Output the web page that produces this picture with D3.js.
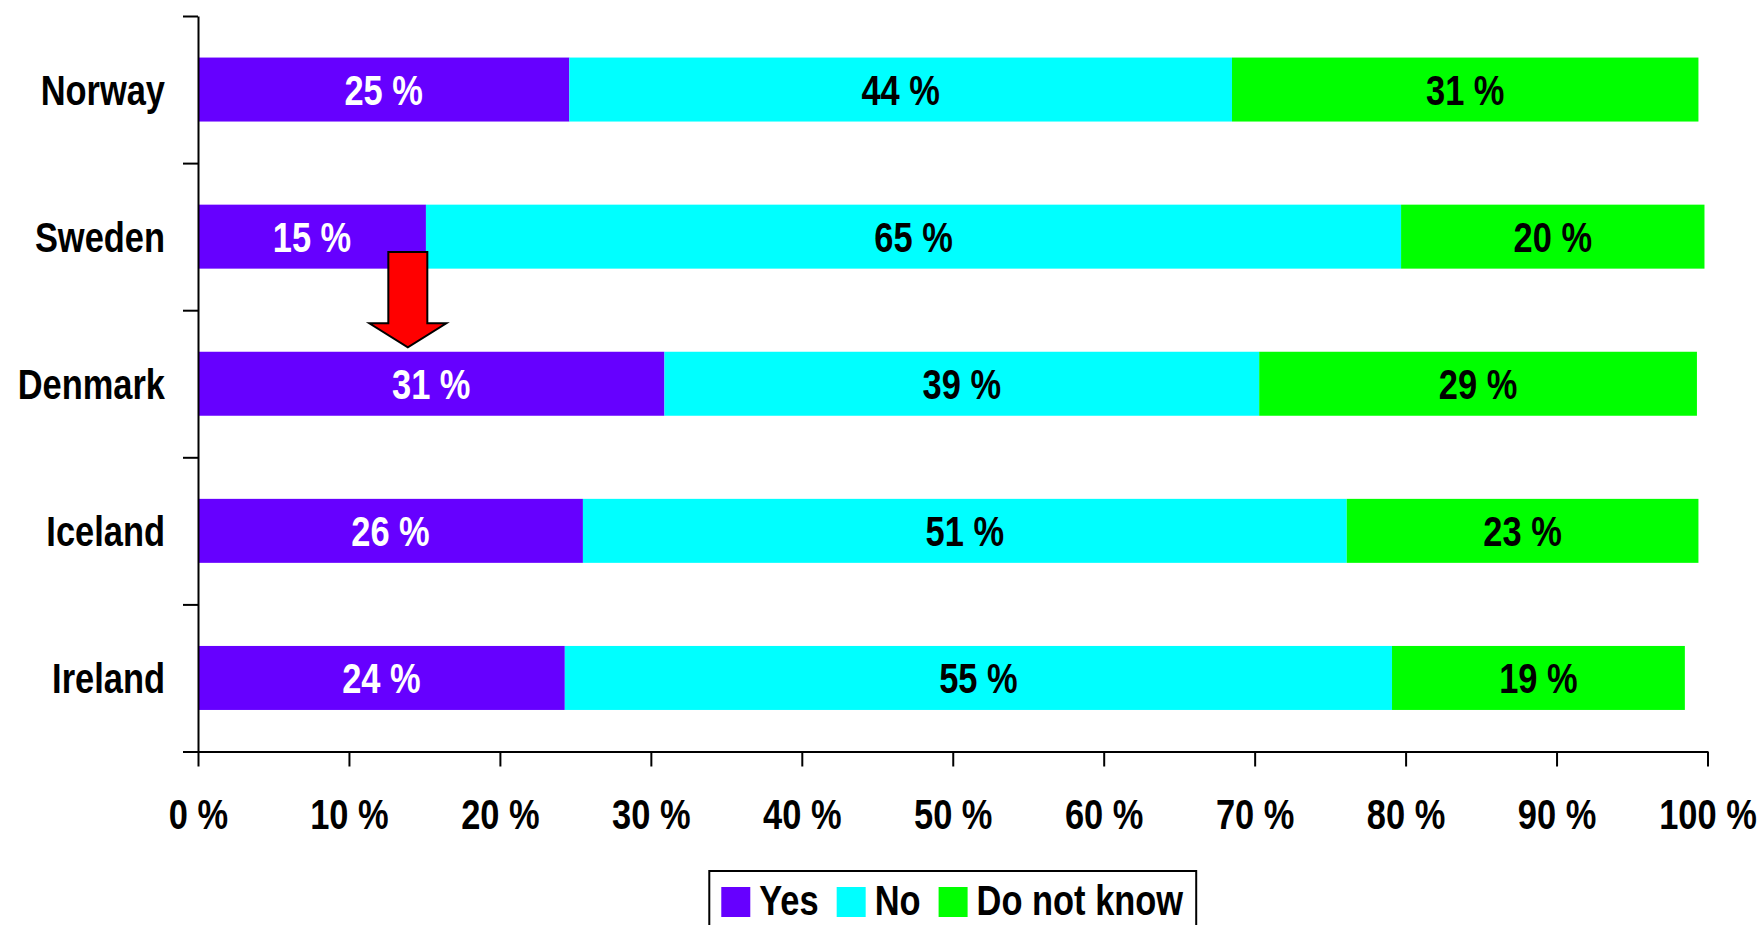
<!DOCTYPE html>
<html>
<head>
<meta charset="utf-8">
<script src="https://cdn.jsdelivr.net/npm/d3@7"></script>
<style>
  html, body { margin: 0; padding: 0; background: #ffffff; overflow: hidden; }
  svg text {
    font-family: "Liberation Sans", Arial, sans-serif;
    font-weight: bold;
  }
</style>
</head>
<body>
<svg id="chart" width="1762" height="925"></svg>
<script>
// Survey answers per country, shares in percent
const categories = ["Norway", "Sweden", "Denmark", "Iceland", "Ireland"];
const yesValues = [24.6, 15.1, 30.9, 25.5, 24.3];
const noValues = [43.9, 64.6, 39.4, 50.6, 54.8];
const dontKnowValues = [30.9, 20.1, 29.0, 23.3, 19.4];

const seriesNames = ["Yes", "No", "Do not know"];
const seriesColors = ["#6600ff", "#00ffff", "#00ff00"];
const valueLabelColors = ["#ffffff", "#000000", "#000000"];

const xTickValues = [0, 10, 20, 30, 40, 50, 60, 70, 80, 90, 100];
const xTickLabels = ["0 %", "10 %", "20 %", "30 %", "40 %", "50 %", "60 %", "70 %", "80 %", "90 %", "100 %"];

// Callout arrow pointing at Denmark's "Yes" share
const arrowAt = 13.9;
const arrowFrom = "Sweden";
const arrowTo = "Denmark";

// Rows for the stack layout
const rows = categories.map((c, i) => ({
  country: c,
  "Yes": yesValues[i],
  "No": noValues[i],
  "Do not know": dontKnowValues[i]
}));

// Narrow (condensed) lettering: squeeze glyphs horizontally around their anchor
const NARROW = 0.82;
function condense(sel) {
  sel.each(function () {
    const t = d3.select(this);
    const tx = +t.attr("x") || 0;
    const ty = +t.attr("y") || 0;
    t.attr("x", 0).attr("y", 0)
      .attr("transform", `translate(${tx},${ty}) scale(${NARROW},1)`);
  });
}

const svg = d3.select("#chart");

const plotLeft = 198, plotRight = 1707.5, plotTop = 16, plotBottom = 751.5;

const x = d3.scaleLinear().domain([0, 100]).range([plotLeft, plotRight]);
const y = d3.scaleBand().domain(categories).range([plotTop, plotBottom])
  .paddingInner(0.565).paddingOuter(0.2825);
const rowEdges = d3.scaleLinear().domain([0, categories.length]).range([plotTop, plotBottom]);

const stacked = d3.stack().keys(seriesNames)(rows);

// Bars
const layers = svg.append("g").attr("class", "bars")
  .selectAll("g").data(stacked).join("g")
  .attr("fill", (d, i) => seriesColors[i]);

layers.selectAll("rect").data(d => d).join("rect")
  .attr("x", d => x(d[0]))
  .attr("y", d => y(d.data.country))
  .attr("width", d => x(d[1]) - x(d[0]))
  .attr("height", y.bandwidth());

// Value labels inside segments
svg.append("g").attr("class", "value-labels")
  .selectAll("g").data(stacked).join("g")
  .attr("fill", (d, i) => valueLabelColors[i])
  .selectAll("text").data(d => d).join("text")
  .attr("x", d => (x(d[0]) + x(d[1])) / 2)
  .attr("y", d => y(d.data.country) + y.bandwidth() / 2)
  .attr("dy", "0.36em")
  .attr("text-anchor", "middle")
  .attr("font-size", 42)
  .text(d => Math.round(d[1] - d[0]) + " %")
  .call(condense);

// Y axis: line with ticks between rows
const yAxisG = svg.append("g")
  .attr("transform", `translate(${plotLeft},0)`)
  .call(d3.axisLeft(rowEdges).tickValues(d3.range(categories.length + 1))
    .tickSize(15).tickSizeOuter(0).tickFormat(""));
yAxisG.selectAll("path, line").attr("stroke", "#000").attr("stroke-width", 2);

// Category labels
const catG = svg.append("g")
  .attr("transform", `translate(${plotLeft},0)`)
  .call(d3.axisLeft(y).tickSize(0).tickPadding(33));
catG.select(".domain").remove();
catG.selectAll("text")
  .attr("font-size", 42)
  .attr("fill", "#000")
  .attr("dy", "0.36em")
  .call(condense);

// X axis
const xAxisG = svg.append("g")
  .attr("transform", `translate(0,${plotBottom})`)
  .call(d3.axisBottom(x).tickValues(xTickValues).tickSize(15).tickSizeOuter(0)
    .tickFormat((d, i) => xTickLabels[i]));
xAxisG.selectAll("path, line").attr("stroke", "#000").attr("stroke-width", 2);
xAxisG.selectAll("text")
  .attr("font-size", 42)
  .attr("fill", "#000")
  .attr("y", 77)
  .attr("dy", 0)
  .call(condense);

// Red arrow annotation
const ax = x(arrowAt);
const shaftHalf = 19.5, headHalf = 38.5;
const shaftTop = y(arrowFrom) + y.bandwidth() * 0.74;
const tipY = y(arrowTo) - 4.5;
const headTop = tipY - 24;
const arrowPts = [
  [ax - shaftHalf, shaftTop], [ax + shaftHalf, shaftTop], [ax + shaftHalf, headTop],
  [ax + headHalf, headTop], [ax, tipY], [ax - headHalf, headTop], [ax - shaftHalf, headTop]
];
svg.append("path")
  .attr("d", d3.line()(arrowPts) + "Z")
  .attr("fill", "#ff0000")
  .attr("stroke", "#000")
  .attr("stroke-width", 2)
  .attr("stroke-linejoin", "miter");

// Legend
const legend = svg.append("g").attr("class", "legend");
const swatchW = 29, swatchH = 30, textGap = 9, itemGap = 18, padL = 12, padR = 13;
const legendTop = 871, legendTextBase = 915;
const items = legend.selectAll("g.item").data(seriesNames).join("g").attr("class", "item");
items.append("rect")
  .attr("width", swatchW).attr("height", swatchH)
  .attr("y", legendTop + 16)
  .attr("fill", (d, i) => seriesColors[i]);
items.append("text")
  .attr("font-size", 42)
  .attr("fill", "#000")
  .text(d => d);

let cursor = 0;
const offsets = [];
items.each(function () {
  const w = d3.select(this).select("text").node().getComputedTextLength() * NARROW;
  offsets.push(cursor);
  cursor += swatchW + textGap + w + itemGap;
});
const contentW = cursor - itemGap;
const boxW = padL + contentW + padR;
const boxX = (plotLeft + plotRight) / 2 - boxW / 2;
items.each(function (d, i) {
  const g = d3.select(this);
  g.select("rect").attr("x", boxX + padL + offsets[i]);
  g.select("text")
    .attr("x", boxX + padL + offsets[i] + swatchW + textGap)
    .attr("y", legendTextBase)
    .call(condense);
});
legend.insert("rect", ":first-child")
  .attr("x", boxX).attr("y", legendTop)
  .attr("width", boxW).attr("height", 70)
  .attr("fill", "#fff").attr("stroke", "#000").attr("stroke-width", 2);
</script>
</body>
</html>
